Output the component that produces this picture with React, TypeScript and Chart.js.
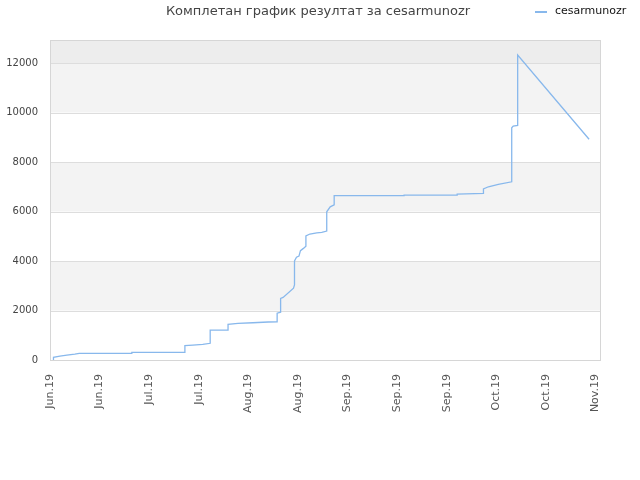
import { useEffect, useRef } from "react";
import { Chart, registerables } from "chart.js";

Chart.register(...registerables);

const title = "Комплетан график резултат за cesarmunozr";
const seriesName = "cesarmunozr";

// tick labels along the x axis (one per unit)
const xLabels = [
  "Jun.19", "Jun.19", "Jul.19", "Jul.19", "Aug.19", "Aug.19",
  "Sep.19", "Sep.19", "Sep.19", "Oct.19", "Oct.19", "Nov.19",
];

// points (x in tick units, y = score)
const xs = [
  0.07, 0.07, 0.2, 0.34, 0.5, 0.59, 1.65, 1.65, 2.72, 2.72, 2.88, 3.08, 3.23,
  3.23, 3.59, 3.59, 3.79, 4.09, 4.4, 4.58, 4.58, 4.65, 4.65, 4.7, 4.91, 4.93,
  4.93, 4.97, 5.02, 5.05, 5.11, 5.16, 5.16, 5.24, 5.38, 5.48, 5.58, 5.58, 5.65,
  5.73, 5.73, 7.14, 7.14, 8.21, 8.21, 8.74, 8.74, 8.84, 9.04, 9.31, 9.31, 9.34,
  9.43, 9.43, 10.87,
];
const ys = [
  0, 110, 160, 200, 240, 270, 270, 310, 310, 580, 605, 635, 675,
  1210, 1210, 1440, 1480, 1505, 1535, 1545, 1890, 1930, 2490, 2530, 2900, 3030,
  4000, 4150, 4200, 4420, 4510, 4600, 5010, 5090, 5140, 5160, 5210, 5990, 6190,
  6270, 6640, 6640, 6665, 6665, 6700, 6735, 6910, 7000, 7100, 7200, 9385, 9455,
  9480, 12320, 8920,
];

const yTicks = [0, 2000, 4000, 6000, 8000, 10000, 12000];
const yMax = 12930;
const xMax = 11.09;

const bandsPlugin = {
  id: "bands",
  beforeDatasetsDraw(chart: any) {
    const { ctx, chartArea, scales } = chart;
    const y = scales.y;
    const fill = (from: number, to: number, color: string) => {
      const top = y.getPixelForValue(to);
      const bottom = y.getPixelForValue(from);
      ctx.fillStyle = color;
      ctx.fillRect(chartArea.left, top, chartArea.right - chartArea.left, bottom - top);
    };
    ctx.save();
    fill(2000, 4000, "#f3f3f3");
    fill(6000, 8000, "#f3f3f3");
    fill(10000, 12000, "#f3f3f3");
    fill(12000, yMax, "#ededed");
    // grid lines over the bands
    ctx.strokeStyle = "#dddddd";
    ctx.lineWidth = 1;
    yTicks.slice(1).forEach((v) => {
      const py = Math.round(y.getPixelForValue(v)) + 0.5;
      ctx.beginPath();
      ctx.moveTo(chartArea.left, py);
      ctx.lineTo(chartArea.right, py);
      ctx.stroke();
    });
    ctx.strokeStyle = "#d6d6d6";
    ctx.strokeRect(
      Math.round(chartArea.left) + 0.5,
      Math.round(chartArea.top) + 0.5,
      Math.round(chartArea.right - chartArea.left),
      Math.round(chartArea.bottom - chartArea.top)
    );
    ctx.restore();
  },
  afterDraw(chart: any) {
    const { ctx } = chart;
    ctx.save();
    ctx.textBaseline = "middle";
    ctx.font = "13px 'DejaVu Sans'";
    ctx.fillStyle = "#444444";
    ctx.textAlign = "center";
    ctx.fillText(title, 318, 12);
    ctx.strokeStyle = "#88b8ec";
    ctx.lineWidth = 2;
    ctx.beginPath();
    ctx.moveTo(535, 12);
    ctx.lineTo(547, 12);
    ctx.stroke();
    ctx.font = "11px 'DejaVu Sans'";
    ctx.fillStyle = "#111111";
    ctx.textAlign = "left";
    ctx.fillText(seriesName, 555, 11);
    ctx.restore();
  },
};

export default function App() {
  const canvasRef = useRef<HTMLCanvasElement>(null);

  useEffect(() => {
    document.body.style.margin = "0";
    if (!canvasRef.current) return;
    const chart = new Chart(canvasRef.current, {
      type: "line",
      data: {
        datasets: [
          {
            label: seriesName,
            data: xs.map((x, i) => ({ x, y: ys[i] })),
            borderColor: "#88b8ec",
            borderWidth: 1.3,
            pointRadius: 0,
            fill: false,
            tension: 0,
          },
        ],
      },
      options: {
        animation: false,
        responsive: true,
        maintainAspectRatio: false,
        layout: { padding: { top: 40, right: 40, left: 0, bottom: 0 } },
        plugins: {
          legend: { display: false },
          title: { display: false },
          tooltip: { enabled: false },
        },
        scales: {
          x: {
            type: "linear",
            min: 0,
            max: xMax,
            grid: { display: false },
            border: { display: false },
            afterBuildTicks: (scale: any) => {
              scale.ticks = xLabels.map((_, i) => ({ value: i }));
            },
            afterFit: (scale: any) => {
              scale.height = 120;
            },
            ticks: {
              minRotation: 90,
              maxRotation: 90,
              autoSkip: false,
              padding: 6,
              color: "#555555",
              font: { family: "'DejaVu Sans'", size: 11 },
              callback: (v: any) => xLabels[Math.round(Number(v))] ?? "",
            },
          },
          y: {
            min: 0,
            max: yMax,
            grid: { display: false, drawTicks: false },
            border: { display: false },
            afterBuildTicks: (scale: any) => {
              scale.ticks = yTicks.map((v) => ({ value: v }));
            },
            afterFit: (scale: any) => {
              scale.width = 50;
            },
            ticks: {
              padding: 12,
              color: "#444444",
              font: { family: "'DejaVu Sans'", size: 10 },
              callback: (v: any) => String(v),
            },
          },
        },
      },
      plugins: [bandsPlugin],
    });
    return () => chart.destroy();
  }, []);

  return (
    <div style={{ width: 640, height: 480, background: "#ffffff" }}>
      <canvas ref={canvasRef} />
    </div>
  );
}
